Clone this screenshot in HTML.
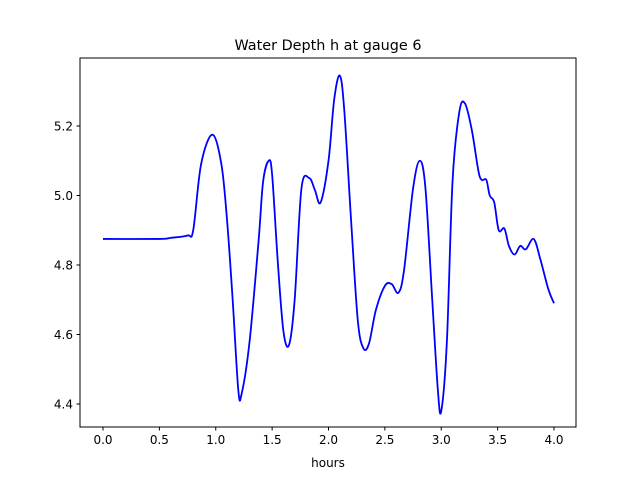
<!DOCTYPE html>
<html><head><meta charset="utf-8"><style>
body{margin:0;background:#fff;}
svg text{font-family:"DejaVu Sans","Liberation Sans",sans-serif;}
</style></head><body>
<svg id="chart" width="640" height="480" xmlns="http://www.w3.org/2000/svg">
<rect width="640" height="480" fill="#fff"/>
<text x="328" y="50" font-size="14.4" text-anchor="middle">Water Depth h at gauge 6</text>
<g id="plot"></g>
<rect x="80" y="58" width="496" height="369" fill="none" stroke="#000" stroke-width="1"/>
<text x="328" y="467" font-size="12" text-anchor="middle">hours</text>
</svg>
<script>
const hours=[0,0.5,0.6,0.75,0.8,0.87,0.97,1.05,1.1,1.15,1.2,1.23,1.3,1.38,1.42,1.47,1.5,1.55,1.6,1.65,1.7,1.76,1.83,1.88,1.93,2.0,2.05,2.1,2.14,2.2,2.26,2.31,2.36,2.42,2.5,2.56,2.62,2.67,2.75,2.81,2.86,2.92,2.97,3.0,3.05,3.1,3.16,3.21,3.27,3.33,3.36,3.4,3.43,3.47,3.51,3.56,3.6,3.65,3.7,3.75,3.82,3.88,3.95,4.0];
const depth=[4.875,4.875,4.878,4.885,4.9,5.09,5.175,5.09,4.93,4.7,4.44,4.43,4.58,4.87,5.04,5.1,5.06,4.81,4.61,4.57,4.7,5.02,5.05,5.015,4.98,5.1,5.275,5.345,5.245,4.93,4.64,4.56,4.575,4.67,4.74,4.745,4.72,4.785,5.02,5.1,5.02,4.7,4.44,4.38,4.58,5.04,5.24,5.265,5.19,5.07,5.045,5.045,5.0,4.98,4.9,4.905,4.855,4.83,4.855,4.845,4.875,4.815,4.73,4.69];
const xTicks=[0,0.5,1,1.5,2,2.5,3,3.5,4];
const yTicks=[4.4,4.6,4.8,5.0,5.2];
const xTickLabels=["0.0","0.5","1.0","1.5","2.0","2.5","3.0","3.5","4.0"];
const yTickLabels=["4.4","4.6","4.8","5.0","5.2"];
const sx=v=>103+v*112.75;
const sy=v=>126+(5.2-v)*347.5;
const NS="http://www.w3.org/2000/svg";
const g=document.getElementById('plot');
function mk(t,a){const e=document.createElementNS(NS,t);for(const k in a)e.setAttribute(k,a[k]);g.appendChild(e);return e;}
xTicks.forEach((t,i)=>{
 const l=mk('line',{x1:sx(t),x2:sx(t),y1:427,y2:430.5,stroke:'#000'});
 
 
 const tx=mk('text',{x:sx(t),y:444,'font-size':12,'text-anchor':'middle'});
 tx.textContent=xTickLabels[i];
 
 
});
yTicks.forEach((t,i)=>{
 const l=mk('line',{x1:76.5,x2:80,y1:sy(t),y2:sy(t),stroke:'#000'});
 
 
 const tx=mk('text',{x:73,y:sy(t)+4.5,'font-size':12,'text-anchor':'end'});
 tx.textContent=yTickLabels[i];
 
 
});
const P=hours.map((h,i)=>[sx(h),sy(depth[i])]);
let d='M'+P[0][0]+','+P[0][1];
for(let i=0;i<P.length-1;i++){
 const p0=P[Math.max(i-1,0)],p1=P[i],p2=P[i+1],p3=P[Math.min(i+2,P.length-1)];
 const c1=[p1[0]+(p2[0]-p0[0])/6,p1[1]+(p2[1]-p0[1])/6];
 const c2=[p2[0]-(p3[0]-p1[0])/6,p2[1]-(p3[1]-p1[1])/6];
 d+=` C${c1[0]},${c1[1]} ${c2[0]},${c2[1]} ${p2[0]},${p2[1]}`;
}
const path=mk('path',{d:d,fill:'none',stroke:'#0000ff','stroke-width':1.8,'stroke-linejoin':'round'});


</script>
</body></html>
